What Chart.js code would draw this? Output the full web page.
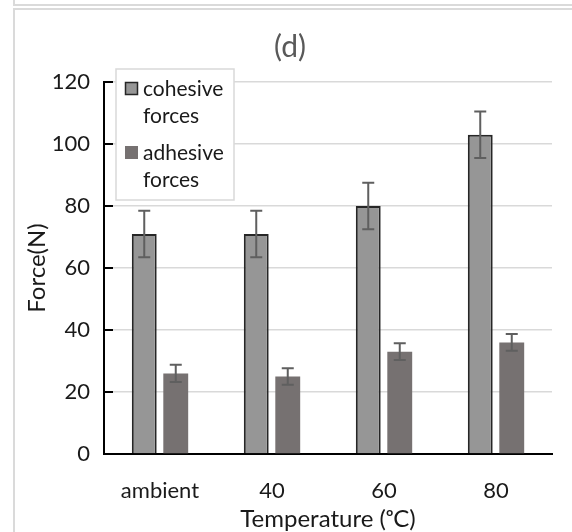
<!DOCTYPE html>
<html>
<head>
<meta charset="utf-8">
<script src="https://cdn.jsdelivr.net/npm/chart.js@4.4.0/dist/chart.umd.min.js"></script>
<style>
  html, body { margin: 0; padding: 0; background: #fff; overflow: hidden; }
  #wrap { position: relative; width: 572px; height: 532px; }
  .panel { position: absolute; left: 13px; width: 620px; border: 2px solid #dadada; box-sizing: border-box; }
  #prev { top: -100px; height: 106px; }
  #cur { top: 8px; height: 640px; }
  canvas { position: absolute; left: 0; top: 0; }
</style>
</head>
<body>
<div id="wrap">
  <div class="panel" id="prev"></div>
  <div class="panel" id="cur"></div>
  <canvas id="c" width="572" height="532"></canvas>
</div>
<script>
// Force measurements per test temperature
const categories = ['ambient', '40', '60', '80'];
const cohesive = [71, 71, 80, 103];
const cohesiveErr = [7.5, 7.5, 7.5, 7.5];
const adhesive = [26, 25, 33, 36];
const adhesiveErr = [2.8, 2.7, 2.7, 2.7];
const seriesNames = [['cohesive', 'forces'], ['adhesive', 'forces']];
const yMin = 0, yMax = 120, yStep = 20;

const FONT = 'Lato, "Open Sans", sans-serif';
const TEXT = '#1a1a1a';

// Error bars drawn from the value arrays through the y scale
const errorBars = {
  id: 'errorBars',
  afterDatasetsDraw(chart) {
    const ctx = chart.ctx, y = chart.scales.y;
    chart.data.datasets.forEach((ds, i) => {
      const meta = chart.getDatasetMeta(i);
      meta.data.forEach((bar, j) => {
        const v = ds.data[j], e = ds.errors[j];
        const top = y.getPixelForValue(v + e), bot = y.getPixelForValue(v - e);
        ctx.save();
        ctx.strokeStyle = '#5f5f5f';
        ctx.lineWidth = 2;
        ctx.beginPath();
        ctx.moveTo(bar.x, top); ctx.lineTo(bar.x, bot);
        ctx.moveTo(bar.x - 6, top); ctx.lineTo(bar.x + 6, top);
        ctx.moveTo(bar.x - 6, bot); ctx.lineTo(bar.x + 6, bot);
        ctx.stroke();
        ctx.restore();
      });
    });
  }
};

// Inward tick marks on the value axis
const innerTicks = {
  id: 'innerTicks',
  afterDatasetsDraw(chart) {
    const ctx = chart.ctx, y = chart.scales.y, left = chart.chartArea.left;
    ctx.save();
    ctx.strokeStyle = '#000';
    ctx.lineWidth = 2;
    y.ticks.forEach(t => {
      const py = Math.round(y.getPixelForValue(t.value));
      ctx.beginPath();
      ctx.moveTo(left, py); ctx.lineTo(left + 9, py);
      ctx.stroke();
    });
    ctx.restore();
  }
};

// Boxed legend in the upper left of the plot, over the gridlines
const boxLegend = {
  id: 'boxLegend',
  beforeDatasetsDraw(chart) {
    const ctx = chart.ctx;
    const bx = 116, by = 69, bw = 118, bh = 131;
    ctx.save();
    ctx.fillStyle = '#fff';
    ctx.fillRect(bx, by, bw, bh);
    ctx.strokeStyle = '#d9d9d9';
    ctx.lineWidth = 1.5;
    ctx.strokeRect(bx, by, bw, bh);
    ctx.font = '21px ' + FONT;
    ctx.textBaseline = 'middle';
    ctx.fillStyle = TEXT;
    const rows = [88, 152];
    chart.data.datasets.forEach((ds, i) => {
      const cy = rows[i];
      ctx.fillStyle = ds.backgroundColor;
      ctx.fillRect(125, cy - 6, 13, 13);
      if (ds.borderWidth) {
        ctx.strokeStyle = ds.borderColor;
        ctx.lineWidth = 1.5;
        ctx.strokeRect(125.5, cy - 5.5, 12, 12);
      }
      ctx.fillStyle = TEXT;
      seriesNames[i].forEach((line, k) => ctx.fillText(line, 143, cy + 1 + k * 27));
    });
    ctx.restore();
  }
};

// Panel letter above the plot
const panelLabel = {
  id: 'panelLabel',
  afterDraw(chart) {
    const ctx = chart.ctx;
    ctx.save();
    ctx.font = '30px ' + FONT;
    ctx.fillStyle = '#595959';
    ctx.textAlign = 'center';
    ctx.textBaseline = 'middle';
    ctx.fillText('(d)', 290, 47);
    ctx.restore();
  }
};

new Chart(document.getElementById('c'), {
  type: 'bar',
  data: {
    labels: categories,
    datasets: [
      {
        label: seriesNames[0].join(' '),
        data: cohesive,
        errors: cohesiveErr,
        backgroundColor: '#969696',
        borderColor: '#262626',
        borderWidth: 2,
        categoryPercentage: 0.5625,
        barPercentage: 0.79
      },
      {
        label: seriesNames[1].join(' '),
        data: adhesive,
        errors: adhesiveErr,
        backgroundColor: '#767171',
        borderWidth: 0,
        categoryPercentage: 0.5625,
        barPercentage: 0.79
      }
    ]
  },
  options: {
    responsive: false,
    animation: false,
    layout: { padding: { left: 0, right: 20, top: 82, bottom: 0 } },
    plugins: {
      legend: { display: false },
      title: { display: false },
      tooltip: { enabled: false }
    },
    scales: {
      x: {
        grid: { display: false, drawTicks: false },
        border: { display: true, color: '#000', width: 2 },
        ticks: { color: TEXT, font: { family: FONT, size: 22 }, padding: 24 },
        title: { display: true, text: 'Temperature (ᵒC)', color: TEXT,
                 font: { family: FONT, size: 24, lineHeight: 1 }, padding: { top: 0, bottom: 1 } },
        afterFit(s) { s.height = 78; }
      },
      y: {
        min: yMin, max: yMax,
        grid: { color: '#d9d9d9', lineWidth: 1.5, drawTicks: false },
        border: { display: true, color: '#000', width: 2 },
        ticks: { stepSize: yStep, color: TEXT, font: { family: FONT, size: 22 }, padding: 14 },
        title: { display: true, text: 'Force(N)', color: TEXT,
                 font: { family: FONT, size: 24, lineHeight: 1 }, padding: { top: 25, bottom: 0 } },
        afterFit(s) { s.width = 104; }
      }
    }
  },
  plugins: [boxLegend, errorBars, innerTicks, panelLabel]
});
</script>
</body>
</html>
